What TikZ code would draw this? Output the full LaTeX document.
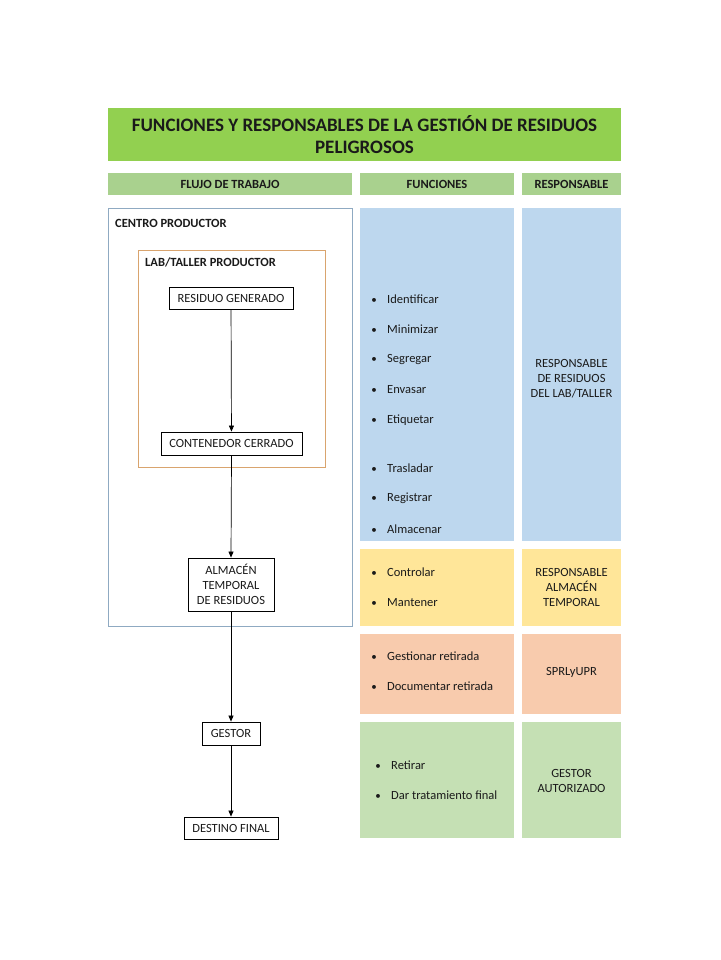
\documentclass[tikz,border=0pt]{standalone}
\usepackage{fontspec}
\setmainfont{Carlito}
\usetikzlibrary{arrows.meta}
\definecolor{titlegreen}{HTML}{92D050}
\definecolor{headgreen}{HTML}{A9D18E}
\definecolor{cblue}{HTML}{BDD7EE}
\definecolor{cyellow}{HTML}{FFE699}
\definecolor{corange}{HTML}{F8CBAD}
\definecolor{cgreen}{HTML}{C5E0B4}
\definecolor{centroborder}{HTML}{8FAAC2}
\definecolor{labborder}{HTML}{D9A46E}
\definecolor{txt}{HTML}{1A1A1A}
\tikzset{
  head/.style={font=\fontsize{12.5}{15}\selectfont\bfseries, text=txt, inner sep=0pt},
  flowbox/.style={draw=black, line width=0.8pt, fill=white, font=\fontsize{12.5}{15}\selectfont, text=txt, align=center, inner xsep=0pt, inner ysep=0pt},
  bul/.style={font=\fontsize{11}{12}\selectfont, text=txt, inner sep=0pt, anchor=base},
  item/.style={font=\fontsize{12.5}{15}\selectfont, text=txt, inner sep=0pt, anchor=west},
  resp/.style={font=\fontsize{12.5}{15}\selectfont, text=txt, align=center, inner sep=0pt},
  flow/.style={-{Triangle[length=6pt,width=5pt]}, line width=0.7pt, black}
}
\begin{document}
\begin{tikzpicture}[x=1pt,y=-1pt]
\useasboundingbox (0,0) rectangle (720,960);
\fill[white] (0,0) rectangle (720,960);
% title
\fill[titlegreen] (108,108) rectangle (621,161);
\node[font=\fontsize{19}{22}\selectfont\bfseries, text=txt, align=center, inner sep=0pt] (title) at (364.5,135) {FUNCIONES Y RESPONSABLES DE LA GESTIÓN DE RESIDUOS\\PELIGROSOS};
% headers
\fill[headgreen] (108,173) rectangle (352,195);
\fill[headgreen] (360,173) rectangle (514,195);
\fill[headgreen] (522,173) rectangle (621,195);
\node[head] (h1) at (230,184.5) {FLUJO DE TRABAJO};
\node[head] (h2) at (437,184.5) {FUNCIONES};
\node[head] (h3) at (571.5,184.5) {RESPONSABLE};
% colour blocks
\fill[cblue] (360,208) rectangle (514,541);
\fill[cblue] (522,208) rectangle (621,541);
\fill[cyellow] (360,549) rectangle (514,626);
\fill[cyellow] (522,549) rectangle (621,626);
\fill[corange] (360,634) rectangle (514,714);
\fill[corange] (522,634) rectangle (621,714);
\fill[cgreen] (360,722) rectangle (514,838);
\fill[cgreen] (522,722) rectangle (621,838);
% containers
\draw[centroborder, line width=0.8pt] (108.5,208.5) rectangle (352,626);
\node[head, anchor=west] (centro) at (115,223.5) {CENTRO PRODUCTOR};
\draw[labborder, line width=0.8pt] (138,250) rectangle (325,467);
\node[head, anchor=west] (lab) at (145,262.5) {LAB/TALLER PRODUCTOR};
% flow boxes
\node[flowbox, minimum width=124pt, minimum height=22pt] (res) at (231,298) {RESIDUO GENERADO};
\node[flowbox, minimum width=141pt, minimum height=23pt] (cont) at (231.5,443.5) {CONTENEDOR CERRADO};
\node[flowbox, minimum width=86pt, minimum height=53pt] (alm) at (231,584.5) {ALMACÉN\\TEMPORAL\\DE RESIDUOS};
\node[flowbox, minimum width=58pt, minimum height=23pt] (gest) at (231,733.5) {GESTOR};
\node[flowbox, minimum width=94pt, minimum height=22pt] (dest) at (231,828) {DESTINO FINAL};
\draw[flow] (res) -- (cont);
\draw[flow] (cont.south) -- (alm.north);
\draw[flow] (alm) -- (gest);
\draw[flow] (gest) -- (dest);
% functions
\foreach \n/\t/\y in {f1/Identificar/299, f2/Minimizar/329, f3/Segregar/359.5, f4/Envasar/390, f5/Etiquetar/420.5, f6/Trasladar/468, f7/Registrar/498.5, f8/Almacenar/529, f9/Controlar/572.5, f10/Mantener/602.5, f11/Gestionar retirada/656.5, f12/Documentar retirada/686.5}{
  \node[item] (\n) at (387,\y) {\t};
  \node[bul] (b\n) at (374,0 |- \n.base) {\textbullet};
}
\node[item] (f13) at (391,765) {Retirar};
\node[bul] (bf13) at (378,0 |- f13.base) {\textbullet};
\node[item] (f14) at (391,795.5) {Dar tratamiento final};
\node[bul] (bf14) at (378,0 |- f14.base) {\textbullet};
% responsibles
\node[resp] (r1) at (571.5,379) {RESPONSABLE\\DE RESIDUOS\\DEL LAB/TALLER};
\node[resp] (r2) at (571.5,587.5) {RESPONSABLE\\ALMACÉN\\TEMPORAL};
\node[resp] (r3) at (571.5,672.5) {SPRLyUPR};
\node[resp] (r4) at (571.5,780.5) {GESTOR\\AUTORIZADO};
\end{tikzpicture}
\end{document}
